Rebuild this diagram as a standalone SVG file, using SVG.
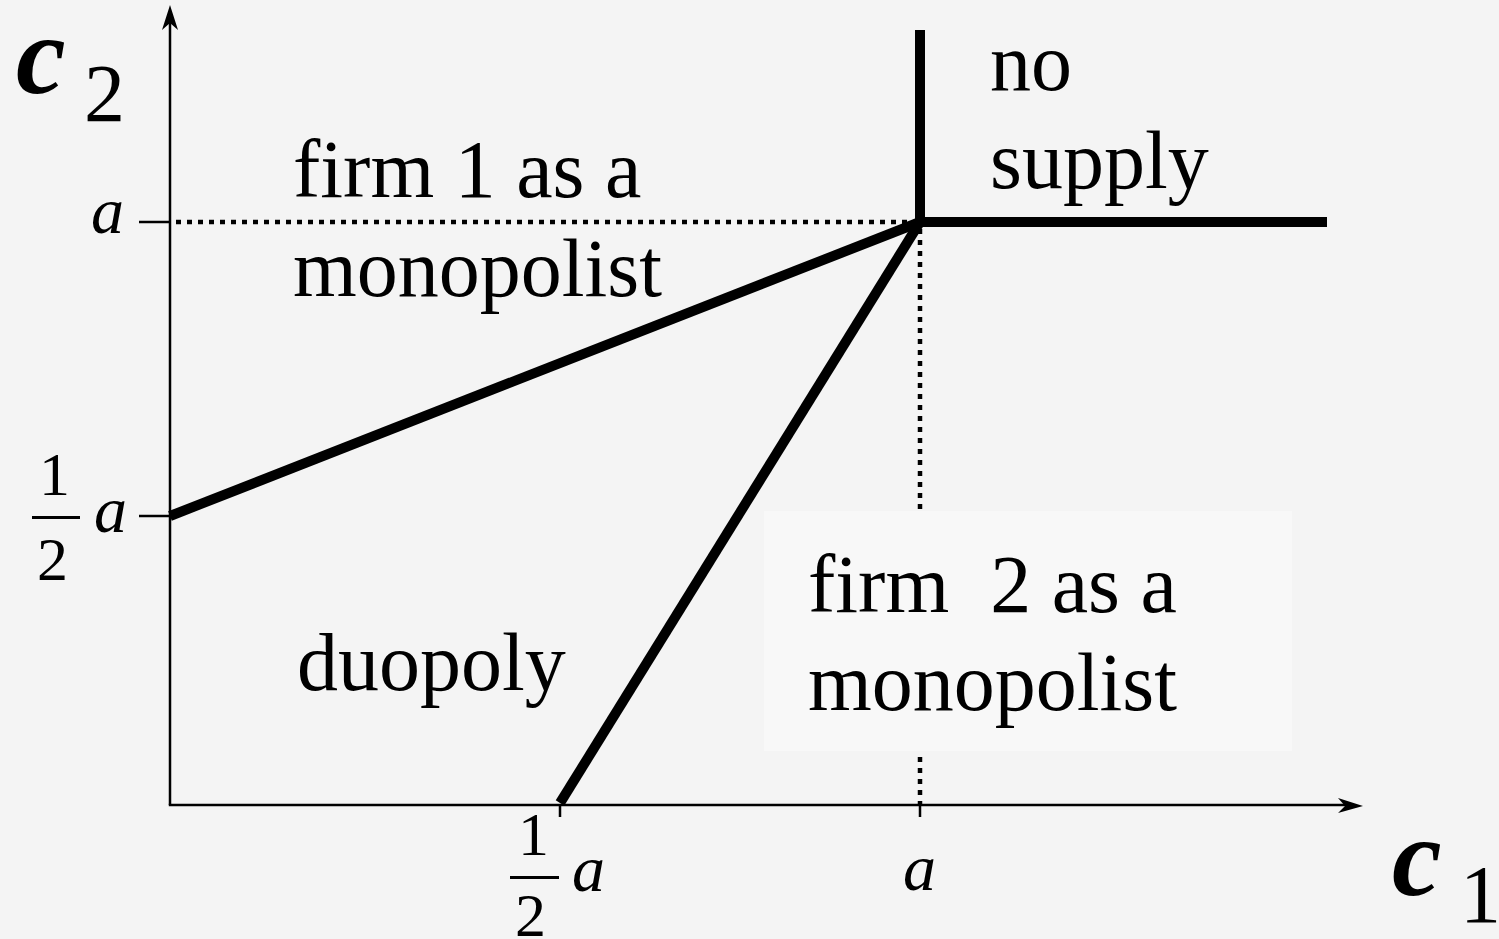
<svg xmlns="http://www.w3.org/2000/svg" width="1499" height="939" viewBox="0 0 1499 939">
<style>
text{font-family:"Liberation Serif","Times New Roman",serif;fill:#000}
.lbl{font-size:82px}
.it{font-style:italic;font-size:66px}
.var{font-style:italic;font-weight:bold;font-size:112px}
.sub{font-size:82px}
.frac{font-size:62px}
.axis{stroke:#000;stroke-width:2.5;fill:none}
.thick{stroke:#000;stroke-width:10;fill:none;stroke-linecap:butt}
.dot{stroke:#000;stroke-width:4.5;stroke-dasharray:5 6;fill:none}
</style>
<rect width="1499" height="939" fill="#f4f4f4"/>
<g id="connectors">
  <line class="dot" x1="176" y1="222" x2="914" y2="222"/>
  <line class="dot" x1="920" y1="229" x2="920" y2="805"/>
  <line class="axis" x1="170" y1="805" x2="170" y2="20"/>
  <line class="axis" x1="168.8" y1="805" x2="1350" y2="805"/>
  <path d="M170,5 L178,30 L170,23 L162,30 Z" fill="#000"/>
  <path d="M1363,806 L1338,813 L1345,806 L1338,798 Z" fill="#000"/>
  <line class="axis" x1="139" y1="222" x2="170" y2="222"/>
  <line class="axis" x1="139" y1="516" x2="170" y2="516"/>
  <line class="axis" x1="560" y1="805" x2="560" y2="817"/>
  <line class="axis" x1="920" y1="805" x2="920" y2="817"/>
  <line class="thick" x1="170" y1="516" x2="920" y2="222"/>
  <line class="thick" x1="560" y1="803" x2="920" y2="222"/>
  <line class="thick" x1="920" y1="30" x2="920" y2="227"/>
  <line class="thick" x1="915" y1="222" x2="1327" y2="222"/>
</g>
<g id="axis-c2">
  <text class="var" x="16" y="93">c</text>
  <text class="sub" x="84" y="121">2</text>
</g>
<g id="axis-c1">
  <text class="var" x="1392" y="895">c</text>
  <text class="sub" x="1460" y="922">1</text>
</g>
<g id="tick-a-y">
  <text class="it" x="91" y="233">a</text>
</g>
<g id="tick-half-a-y">
  <text class="frac" x="39" y="495">1</text>
  <rect x="32" y="516" width="48" height="3" fill="#000"/>
  <text class="frac" x="37" y="580">2</text>
  <text class="it" x="94" y="532">a</text>
</g>
<g id="tick-half-a-x">
  <text class="frac" x="518" y="855">1</text>
  <rect x="510" y="876" width="49" height="3" fill="#000"/>
  <text class="frac" x="515" y="936">2</text>
  <text class="it" x="572" y="891">a</text>
</g>
<g id="tick-a-x">
  <text class="it" x="903" y="890">a</text>
</g>
<g id="region-firm1">
  <text class="lbl" x="293" y="197">firm 1 as a</text>
  <text class="lbl" x="293" y="296">monopolist</text>
</g>
<g id="region-nosupply">
  <text class="lbl" x="990" y="90">no</text>
  <text class="lbl" x="990" y="188">supply</text>
</g>
<g id="region-duopoly">
  <text class="lbl" x="297" y="690">duopoly</text>
</g>
<g id="region-firm2">
  <rect x="764" y="511" width="528" height="240" fill="#f8f8f8"/>
  <text class="lbl" x="808" y="612" xml:space="preserve">firm  2 as a</text>
  <text class="lbl" x="808" y="710">monopolist</text>
</g>
</svg>
